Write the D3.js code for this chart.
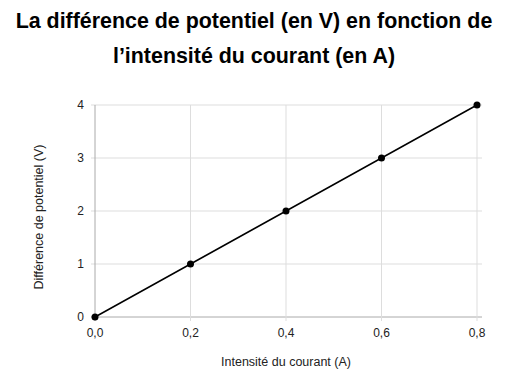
<!DOCTYPE html>
<html lang="fr">
<head>
<meta charset="UTF-8">
<title>Différence de potentiel</title>
<style>
  body { margin: 0; background: #fff; }
  text { font-family: "Liberation Sans", Arial, sans-serif; }
</style>
</head>
<body>
<div id="chart"></div>
<script src="https://d3js.org/d3.v7.min.js"></script>
<script>
// data
var courant = [0, 0.2, 0.4, 0.6, 0.8];
var tension = [0, 1, 2, 3, 4];
var xTicks = [0, 0.2, 0.4, 0.6, 0.8];
var yTicks = [0, 1, 2, 3, 4];
var titre = ["La différence de potentiel (en V) en fonction de", "l’intensité du courant (en A)"];

var W = 508, H = 376;
var margin = { top: 105, right: 31, bottom: 59, left: 95 };
var width = W - margin.left - margin.right,
    height = H - margin.top - margin.bottom;

var svg = d3.select("#chart").append("svg")
    .attr("width", W).attr("height", H);

svg.selectAll(".titre")
    .data(titre)
    .enter().append("text")
    .attr("x", W / 2)
    .attr("y", function (d, i) { return 28 + i * 35; })
    .attr("text-anchor", "middle")
    .style("font-size", "21.4px")
    .style("font-weight", "bold")
    .style("fill", "#000")
    .text(function (d) { return d; });

var g = svg.append("g")
    .attr("transform", "translate(" + margin.left + "," + margin.top + ")");

var x = d3.scaleLinear().domain([0, 0.8]).range([0, 382]);
var y = d3.scaleLinear().domain([0, 4]).range([height, 0]);

// grid
g.selectAll(".hgrid").data(yTicks).enter().append("line")
    .attr("x1", -4).attr("x2", width + 5)
    .attr("y1", function (d) { return y(d); })
    .attr("y2", function (d) { return y(d); })
    .style("stroke", function (d) { return d === 0 ? "#aaa" : "#ddd"; })
    .style("stroke-width", 1);

g.selectAll(".vgrid").data(xTicks).enter().append("line")
    .attr("x1", function (d) { return x(d); })
    .attr("x2", function (d) { return x(d); })
    .attr("y1", 0).attr("y2", height + 4)
    .style("stroke", function (d) { return d === 0 ? "#aaa" : "#ddd"; })
    .style("stroke-width", 1);

// tick labels
g.selectAll(".ylab").data(yTicks).enter().append("text")
    .attr("x", -11)
    .attr("y", function (d) { return y(d) + 4; })
    .attr("text-anchor", "end")
    .style("font-size", "12px")
    .style("fill", "#222")
    .text(function (d) { return d; });

var fmt = function (d) { return d3.format(".1f")(d).replace(".", ","); };
g.selectAll(".xlab").data(xTicks).enter().append("text")
    .attr("x", function (d) { return x(d); })
    .attr("y", height + 20)
    .attr("text-anchor", "middle")
    .style("font-size", "12px")
    .style("fill", "#222")
    .text(fmt);

// axis titles
g.append("text")
    .attr("x", x(0.4))
    .attr("y", height + 49)
    .attr("text-anchor", "middle")
    .style("font-size", "12.5px")
    .style("fill", "#222")
    .text("Intensité du courant (A)");

g.append("text")
    .attr("transform", "translate(-52," + (height / 2 + 6) + ") rotate(-90)")
    .attr("text-anchor", "middle")
    .style("font-size", "12.5px")
    .style("fill", "#222")
    .text("Différence de potentiel (V)");

// line + points
var pts = courant.map(function (c, i) { return { c: c, v: tension[i] }; });

g.append("path")
    .datum(pts)
    .attr("d", d3.line().x(function (d) { return x(d.c); }).y(function (d) { return y(d.v); }))
    .style("fill", "none")
    .style("stroke", "#000")
    .style("stroke-width", 1.5);

g.selectAll(".pt").data(pts).enter().append("circle")
    .attr("cx", function (d) { return x(d.c); })
    .attr("cy", function (d) { return y(d.v); })
    .attr("r", 3.5)
    .style("fill", "#000");
</script>
</body>
</html>
